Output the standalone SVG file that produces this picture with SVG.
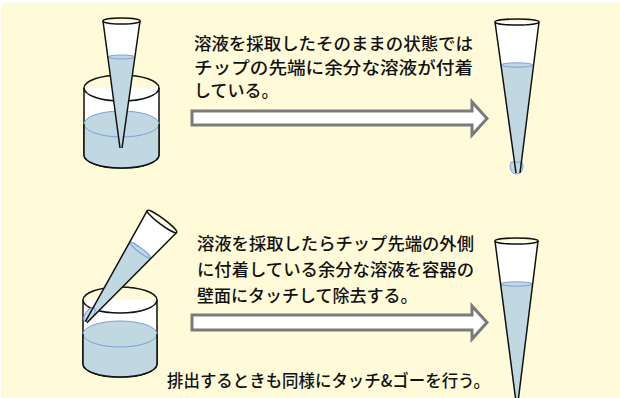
<svg xmlns="http://www.w3.org/2000/svg" width="620" height="398" viewBox="0 0 620 398">
  <defs>
    <style>
      .bg { fill: #FFFBD8; }
      .glass { fill: #FFFFFF; stroke: #111; stroke-width: 1.5; }
      .rim { fill: none; stroke: #111; stroke-width: 1.5; }
      .liquid { fill: #BFD8E2; stroke: none; }
      .surface { fill: #BFD8E2; stroke: #7E9FD8; stroke-width: 1; }
      .edge { fill: none; stroke: #111; stroke-width: 1.5; stroke-linejoin: round; }
      .arrow { fill: #FFFFFF; stroke: #7A7A7A; stroke-width: 3; stroke-linejoin: miter; }
      .label { font-family: "Noto Sans CJK JP", "Noto Sans", sans-serif; font-size: 17px; font-weight: 500; fill: #111; }
    </style>
  </defs>

  <rect class="bg" x="1" y="3" width="619" height="395"/>

  <!-- upper row: beaker with pipette tip dipped in -->
  <g id="beaker-top">
    <path class="glass" d="M84,88 L84,155 A37.5,13 0 0 0 159,155 L159,88"/>
    <path class="liquid" d="M84,124 L84,155 A37.5,13 0 0 0 159,155 L159,124 Z"/>
    <ellipse class="surface" cx="121.5" cy="124" rx="37.5" ry="13"/>
    <path class="edge" d="M84,124 L84,155 A37.5,13 0 0 0 159,155 L159,124"/>
    <ellipse class="rim" cx="121.5" cy="88" rx="37.5" ry="13"/>
  </g>

  <g id="tip-top-left">
    <path fill="#FFFFFF" d="M103,21 L120,148 L122,148 L140,21 Z"/>
    <path class="liquid" d="M108.2,57 L120,148 L122,148 L134.8,57 Z"/>
    <ellipse class="surface" cx="121.5" cy="57" rx="13.3" ry="2"/>
    <path class="edge" d="M103,21 L120,148 M140,21 L122,148"/>
    <ellipse class="rim" cx="121.5" cy="21" rx="18.5" ry="3"/>
  </g>

  <g id="tip-top-right">
    <path fill="#FFFFFF" d="M495,22 L516,173 L520,173 L539,22 Z"/>
    <path class="liquid" d="M501.2,65 L516,173 L520,173 L532.8,65 Z"/>
    <ellipse class="surface" cx="517" cy="65" rx="15.8" ry="2.2"/>
    <path class="surface" d="M511,162 C509,166 510,174 516.5,174 C523,174 524,166 522,162 Z"/>
    <path class="edge" d="M495,22 L516,173 M539,22 L520,173"/>
    <ellipse class="rim" cx="517" cy="22" rx="22" ry="3"/>
  </g>

  <!-- lower row: tip touched against the beaker wall -->
  <g id="beaker-bottom">
    <path class="glass" d="M83,300 L83,364 A37,13 0 0 0 157,364 L157,300"/>
    <path class="liquid" d="M83,334 L83,364 A37,13 0 0 0 157,364 L157,334 Z"/>
    <ellipse class="surface" cx="120" cy="334" rx="37" ry="13"/>
    <path class="edge" d="M83,334 L83,364 A37,13 0 0 0 157,364 L157,334"/>
    <ellipse class="rim" cx="120" cy="300" rx="37" ry="13"/>
  </g>

  <g id="tip-bottom-left" transform="translate(162,221.5) rotate(37)">
    <path fill="#FFFFFF" d="M-18.3,0 L-1,126 L1,126 L18.3,0 Z"/>
    <path class="liquid" d="M-13.1,36 L-1,126 L1,126 L13.1,36 Z"/>
    <ellipse class="surface" cx="0" cy="36" rx="13.1" ry="2.2"/>
    <ellipse class="surface" cx="-2" cy="118" rx="4" ry="8"/>
    <path class="edge" d="M-18.3,0 L-1,126 M18.3,0 L1,126"/>
    <ellipse class="rim" cx="0" cy="0" rx="18.3" ry="3"/>
  </g>

  <g id="tip-bottom-right">
    <path fill="#FFFFFF" d="M495,241 L516,402 L518,402 L538,241 Z"/>
    <path class="liquid" d="M500.8,284 L516,402 L518,402 L532.3,284 Z"/>
    <ellipse class="surface" cx="516.5" cy="284" rx="15.8" ry="2.2"/>
    <path class="edge" d="M495,241 L516,402 M538,241 L518,402"/>
    <ellipse class="rim" cx="516.5" cy="241" rx="21.5" ry="3"/>
  </g>

  <!-- connectors -->
  <g id="connectors">
    <path class="arrow" d="M192,111 H472 V102 L487,118.5 L472,135 V125 H192 Z"/>
    <path class="arrow" d="M192,315 H472 V306 L487,322.5 L472,339 V330 H192 Z"/>
  </g>

  <!-- captions -->
  <g id="caption-top">
    <text class="label" x="194" y="50" textLength="279" lengthAdjust="spacingAndGlyphs">溶液を採取したそのままの状態では</text>
    <text class="label" x="194" y="74" textLength="279" lengthAdjust="spacingAndGlyphs">チップの先端に余分な溶液が付着</text>
    <text class="label" x="194" y="97">している。</text>
  </g>

  <g id="caption-bottom">
    <text class="label" x="197" y="250" textLength="277" lengthAdjust="spacingAndGlyphs">溶液を採取したらチップ先端の外側</text>
    <text class="label" x="197" y="276" textLength="277" lengthAdjust="spacingAndGlyphs">に付着している余分な溶液を容器の</text>
    <text class="label" x="197" y="302">壁面にタッチして除去する。</text>
  </g>

  <g id="caption-note">
    <text class="label" x="167" y="387" textLength="323" lengthAdjust="spacingAndGlyphs">排出するときも同様にタッチ&amp;ゴーを行う。</text>
  </g>
</svg>
